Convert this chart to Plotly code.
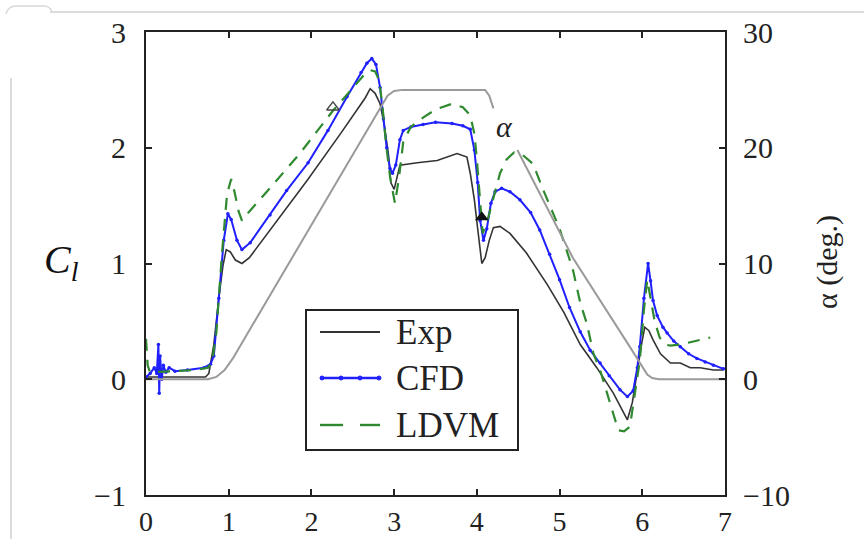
import plotly.graph_objects as go

# ---------------- data ----------------
exp_x = [0, 0.3, 0.6, 0.72, 0.76, 0.82, 0.88, 0.93, 0.97, 1.02, 1.08, 1.16, 1.25, 1.54, 1.95,
         2.35, 2.55, 2.65, 2.71, 2.77, 2.83, 2.88, 2.93, 2.96, 3.0, 3.07, 3.28, 3.52, 3.76,
         3.88, 3.92, 3.97, 4.01, 4.06, 4.1, 4.15, 4.2, 4.28, 4.4, 4.6, 4.85, 5.05, 5.25,
         5.45, 5.65, 5.82, 5.88, 5.94, 5.99, 6.03, 6.08, 6.13, 6.22, 6.34, 6.46, 6.58, 6.7,
         6.86, 6.98]
exp_cl = [0.02, 0.02, 0.02, 0.02, 0.05, 0.3, 0.7, 0.98, 1.12, 1.1, 1.03, 1.0, 1.05, 1.33, 1.72,
          2.12, 2.33, 2.43, 2.51, 2.47, 2.38, 2.2, 1.95, 1.7, 1.64, 1.85, 1.87, 1.89, 1.95,
          1.92, 1.78, 1.55, 1.3, 1.0, 1.05, 1.2, 1.31, 1.32, 1.26, 1.09, 0.82, 0.58, 0.3,
          0.1, -0.12, -0.35, -0.2, 0.08, 0.3, 0.45, 0.42, 0.34, 0.22, 0.14, 0.14, 0.1, 0.1,
          0.08, 0.08]

cfd_x = [0, 0.05, 0.1, 0.13, 0.15, 0.16, 0.17, 0.19, 0.21, 0.24, 0.28, 0.35, 0.5, 0.7,
         0.78, 0.82, 0.88, 0.94, 0.99, 1.03, 1.1, 1.16, 1.26, 1.5, 1.7, 1.96, 2.2, 2.43,
         2.6, 2.67, 2.73, 2.78, 2.83, 2.87, 2.91, 2.95, 2.98, 3.02, 3.07, 3.11, 3.2, 3.35,
         3.5, 3.7, 3.83, 3.92, 3.97, 4.01, 4.04, 4.08, 4.12, 4.17, 4.22, 4.3, 4.4, 4.52,
         4.65, 4.76, 4.88, 5.0, 5.12, 5.25, 5.37, 5.49, 5.6, 5.73, 5.82, 5.89, 5.94, 5.97,
         6.02, 6.07, 6.1, 6.13, 6.18, 6.25, 6.3, 6.38, 6.46, 6.56, 6.66, 6.76, 6.86, 6.98]
cfd_cl = [0.02, 0.05, 0.1, 0.05, 0.3, -0.12, 0.2, 0.0, 0.12, 0.06, 0.1, 0.07, 0.08, 0.1,
          0.13, 0.2, 0.7, 1.2, 1.43, 1.38, 1.2, 1.12, 1.18, 1.42, 1.63, 1.87, 2.15, 2.44,
          2.65, 2.73, 2.77, 2.72, 2.52, 2.25, 2.0, 1.82, 1.78, 1.85, 2.07, 2.15, 2.18, 2.2,
          2.22, 2.21, 2.19, 2.16, 1.98, 1.7, 1.37, 1.2, 1.3, 1.52, 1.62, 1.65, 1.62, 1.55,
          1.44, 1.29, 1.08, 0.86, 0.62, 0.41, 0.25, 0.14, 0.03, -0.09, -0.15, -0.1, 0.1, 0.28,
          0.7, 1.0, 0.85, 0.68, 0.55, 0.45, 0.4, 0.33, 0.28, 0.22, 0.18, 0.15, 0.12, 0.09]

ldvm_x = [0, 0.02, 0.05, 0.3, 0.6, 0.75, 0.8, 0.85, 0.92, 0.98, 1.03, 1.07, 1.12, 1.16,
          1.25, 1.46, 1.86, 2.26, 2.5, 2.65, 2.71, 2.77, 2.82, 2.86, 2.9, 2.95, 3.01, 3.06,
          3.11, 3.2, 3.35, 3.5, 3.7, 3.83, 3.92, 3.97, 4.0, 4.03, 4.07, 4.12, 4.2, 4.28,
          4.36, 4.45, 4.55, 4.68, 4.8, 5.0, 5.16, 5.25, 5.33, 5.41, 5.49, 5.57, 5.65, 5.71,
          5.78, 5.85, 5.92, 5.97, 6.02, 6.06, 6.1, 6.15, 6.21, 6.28, 6.34, 6.45, 6.58, 6.7,
          6.82]
ldvm_cl = [0.35, 0.12, 0.06, 0.07, 0.08, 0.1, 0.15, 0.4, 1.1, 1.6, 1.73, 1.62, 1.45, 1.37,
           1.45, 1.62, 1.95, 2.32, 2.52, 2.64, 2.67, 2.66, 2.58, 2.35, 2.05, 1.75, 1.52, 1.75,
           2.05, 2.18, 2.26, 2.33, 2.38, 2.35, 2.28, 2.12, 1.9, 1.6, 1.26, 1.35, 1.57, 1.78,
           1.9, 1.96, 1.94, 1.86, 1.64, 1.3, 0.95, 0.66, 0.48, 0.22, 0.08, -0.1, -0.3, -0.44,
           -0.45, -0.41, -0.1, 0.16, 0.6, 0.86, 0.7, 0.5, 0.36, 0.3, 0.29, 0.3, 0.32, 0.34,
           0.36]

alpha_x = [0, 0.75, 0.85, 0.95, 1.05, 2.85, 2.92, 3.0, 3.1, 4.1, 4.15, 4.2,
           None,
           4.49, 5.16, 5.85, 6.0, 6.06, 6.12, 6.2, 7.0]
alpha_deg = [0, 0, 0.2, 0.8, 1.8, 23.6, 24.5, 24.9, 25, 25, 24.5, 23.4,
             None,
             19.8, 10.5, 2.8, 1.0, 0.4, 0.1, 0, 0]

open_tri_x = [2.26]
open_tri_cl = [2.35]
solid_tri_x = [4.06]
solid_tri_cl = [1.4]

x_ticks = [0, 1, 2, 3, 4, 5, 6, 7]
cl_ticks = [-1, 0, 1, 2, 3]
alpha_ticks = [-10, 0, 10, 20, 30]

legend_names = ["Exp", "CFD", "LDVM"]

# ---------------- figure ----------------
SERIF = "Liberation Serif, Times New Roman, serif"
INK = "#222222"
C_EXP, C_CFD, C_LDVM, C_ALPHA = "#333333", "#2020ff", "#2f8a2f", "#9a9a9a"

# plot area in pixels (for placing decorations)
L, R, T, B = 146, 725, 32, 495


def px(xp):
    return (xp - L) / (R - L)


def py(yp):
    return (B - yp) / (B - T)


fig = go.Figure()
fig.add_trace(go.Scatter(x=alpha_x, y=alpha_deg, yaxis="y2", mode="lines",
                         line=dict(color=C_ALPHA, width=2), connectgaps=False,
                         hoverinfo="skip"))
fig.add_trace(go.Scatter(x=exp_x, y=exp_cl, mode="lines", name=legend_names[0],
                         line=dict(color=C_EXP, width=1.6)))
fig.add_trace(go.Scatter(x=cfd_x, y=cfd_cl, mode="lines+markers", name=legend_names[1],
                         line=dict(color=C_CFD, width=2),
                         marker=dict(size=3.5, color=C_CFD)))
fig.add_trace(go.Scatter(x=ldvm_x, y=ldvm_cl, mode="lines", name=legend_names[2],
                         line=dict(color=C_LDVM, width=2.2, dash="12px,9px")))
fig.add_trace(go.Scatter(x=open_tri_x, y=open_tri_cl, mode="markers",
                         marker=dict(symbol="triangle-up-open", size=11,
                                     color="#444444", line=dict(width=1.3))))
fig.add_trace(go.Scatter(x=solid_tri_x, y=solid_tri_cl, mode="markers",
                         marker=dict(symbol="triangle-up", size=12, color="#111111")))

axis_common = dict(showgrid=False, zeroline=False, showline=True, linecolor=INK,
                   linewidth=2, ticks="inside", ticklen=6, tickwidth=2, tickcolor=INK,
                   automargin=False)
TICKFONT = dict(family=SERIF, size=30, color=INK)

fig.update_layout(
    width=864, height=539,
    margin=dict(l=L, r=864 - R, t=T, b=539 - B),
    paper_bgcolor="white", plot_bgcolor="white",
    showlegend=False,
    xaxis=dict(range=[0, 7], tickvals=x_ticks, mirror="ticks", ticklabelstandoff=0,
               tickfont=dict(family=SERIF, size=28, color=INK), **axis_common),
    yaxis=dict(range=[-1, 3], tickvals=cl_ticks, mirror=False, ticklabelstandoff=12,
               tickfont=TICKFONT, **axis_common),
    yaxis2=dict(range=[-10, 30], tickvals=alpha_ticks, overlaying="y", side="right",
                ticklabelstandoff=10, tickfont=TICKFONT, **axis_common),
)

fig.add_annotation(x=4.34, y=2.18, xref="x", yref="y", text="<i>α</i>", showarrow=False,
                   font=dict(family=SERIF, size=30, color=INK))
fig.add_annotation(x=px(42), y=py(262), xref="paper", yref="paper",
                   text="<i>C<sub>l</sub></i>", showarrow=False,
                   font=dict(family=SERIF, size=40, color="#111111"))
fig.add_annotation(x=px(846), y=py(262), xref="paper", yref="paper",
                   text="α (deg.)", textangle=-90, showarrow=False,
                   font=dict(family=SERIF, size=30, color=INK))

# ---- legend box (drawn by hand to match the original's proportions) ----
fig.add_shape(type="rect", xref="paper", yref="paper",
              x0=px(306), x1=px(518), y0=py(310), y1=py(450),
              line=dict(color=INK, width=2), fillcolor="white", layer="above")
rows = [332, 378, 425]
fig.add_shape(type="line", xref="paper", yref="paper", x0=px(320), x1=px(380),
              y0=py(rows[0]), y1=py(rows[0]), line=dict(color=C_EXP, width=1.8))
fig.add_shape(type="line", xref="paper", yref="paper", x0=px(320), x1=px(380),
              y0=py(rows[1]), y1=py(rows[1]), line=dict(color=C_CFD, width=2.4))
for cx in (322, 341, 360, 379):
    fig.add_shape(type="circle", xref="paper", yref="paper",
                  x0=px(cx - 2), x1=px(cx + 2), y0=py(rows[1] - 2), y1=py(rows[1] + 2),
                  line=dict(color=C_CFD, width=1), fillcolor=C_CFD)
for a, b in ((320, 343), (360, 380)):
    fig.add_shape(type="line", xref="paper", yref="paper", x0=px(a), x1=px(b),
                  y0=py(rows[2]), y1=py(rows[2]), line=dict(color=C_LDVM, width=2.4))
for name, ry in zip(legend_names, rows):
    fig.add_annotation(x=px(394), y=py(ry), xref="paper", yref="paper", text=name,
                       xanchor="left", yanchor="middle", showarrow=False,
                       font=dict(family=SERIF, size=35, color=INK))

# light frame remnants of the screenshot
fig.add_shape(type="line", xref="paper", yref="paper",
              x0=px(50), x1=px(864), y0=py(12), y1=py(12),
              line=dict(color="#cfcfcf", width=1.5))
fig.add_shape(type="path", xref="paper", yref="paper",
              path=f"M {px(6)},{py(14)} Q {px(8)},{py(6)} {px(16)},{py(6)} "
                   f"L {px(44)},{py(6)} Q {px(50)},{py(6)} {px(52)},{py(12)}",
              line=dict(color="#d8d8d8", width=1.5))
fig.add_shape(type="line", xref="paper", yref="paper",
              x0=px(11), x1=px(11), y0=py(78), y1=py(545),
              line=dict(color="#cfcfcf", width=1.5))

fig.write_html("out.html")
